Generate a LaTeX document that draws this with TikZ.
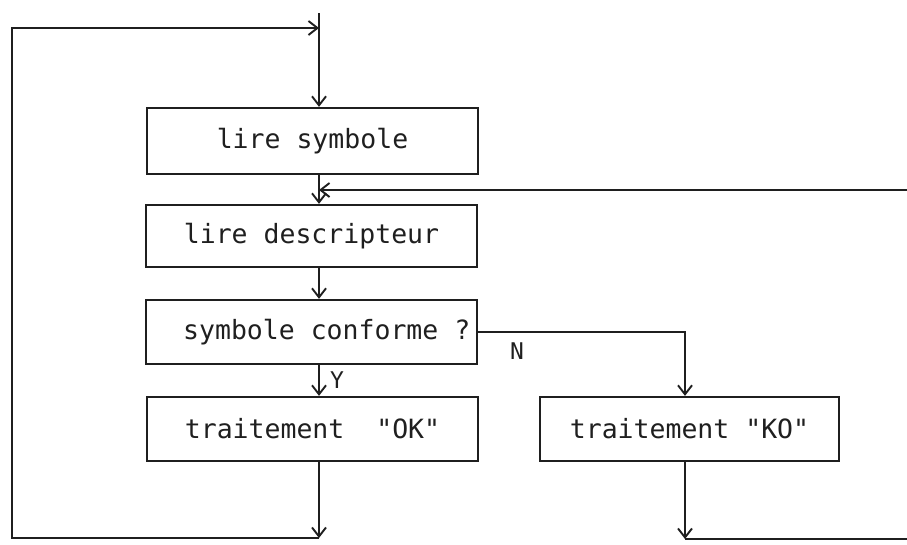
\documentclass[tikz,border=0pt]{standalone}
\usepackage{fontspec}
\newfontfamily\tw{DejaVu Sans Mono}
\usetikzlibrary{arrows.meta}
\begin{document}
\begin{tikzpicture}[x=1pt,y=-1pt,
  ink/.style={draw=black!88,line width=2.3pt},
  stepbox/.style={ink,rectangle,inner sep=0pt,font=\tw\fontsize{26.5}{30}\selectfont,text=black!88},
  flow/.style={ink,-{Straight Barb[length=9pt,width=14pt,line width=1.9pt]}},
  lbl/.style={font=\tw\fontsize{23}{26}\selectfont,text=black!88,inner sep=0pt}]
\useasboundingbox (0,0) rectangle (907,544);
\node[stepbox,minimum width=331pt,minimum height=66pt] (ls) at (312.5,141) {lire symbole};
\node[stepbox,minimum width=331pt,minimum height=62pt] (ld) at (311.5,236) {lire descripteur};
\node[stepbox,minimum width=331pt,minimum height=64pt] (sc) at (311.5,332) {};
\node[stepbox,draw=none,anchor=west] (sct) at (182,332) {symbole conforme ?};
\node[stepbox,minimum width=331pt,minimum height=64pt] (ok) at (312.5,429) {traitement\ \ "OK"};
\node[stepbox,minimum width=299pt,minimum height=64pt] (ko) at (689.5,429) {traitement "KO"};
\coordinate (top) at (319,13);
\coordinate (loopin) at (319,28);
\coordinate (col) at (319,0);
\coordinate (okend) at (319,538);
\coordinate (bl) at (12,538);
\coordinate (tl) at (12,28);
\coordinate (kocol) at (685,0);
\coordinate (koend) at (685,539);
\coordinate (koright) at (907,539);
\coordinate (rin) at (907,190);
\coordinate (rjoin) at (319,190);
\coordinate (branch) at (685,332);
% top entry
\draw[ink] (top) -- (loopin);
\draw[flow] (loopin) -- (ls.north -| col);
% loop back from OK
\draw[flow] (ok.south -| col) -- (okend);
\draw[flow] (okend) -- (bl) -- (tl) -- (loopin);
% KO exit
\draw[flow] (ko.south -| kocol) -- (koend);
\draw[ink] (koend) -- (koright);
% return from right
\draw[flow] (rin) -- (rjoin);
\draw[flow] (ls.south -| col) -- (ld.north -| col);
\draw[flow] (ld.south -| col) -- (sc.north -| col);
\draw[flow] (sc.south -| col) -- node[lbl,anchor=west,xshift=10pt,pos=0.5] (y) {Y} (ok.north -| col);
\draw[flow] (sc.east) -- (branch) -- (ko.north -| kocol);
\node[lbl] (n) at (517,351) {N};
\end{tikzpicture}
\end{document}
